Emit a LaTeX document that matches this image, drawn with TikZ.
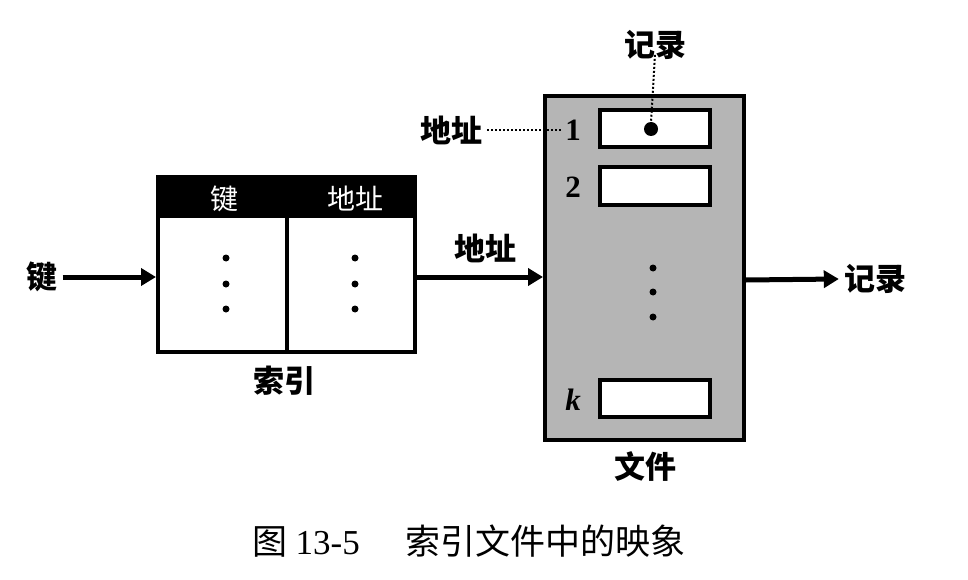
\documentclass[tikz,border=0pt]{standalone}
\usepackage{fontspec}
\setmainfont{Liberation Serif}
\newfontfamily\cjk{Noto Sans CJK SC}
\usetikzlibrary{arrows.meta}
\begin{document}
\begin{tikzpicture}[x=1pt,y=-1pt,
  thickbox/.style={draw=black,line width=4.5pt},
  lbl/.style={font=\cjk\bfseries\fontsize{31}{31}\selectfont,inner sep=0pt},
  hdr/.style={font=\cjk\fontsize{28}{28}\selectfont,text=white,inner sep=0pt},
  num/.style={font=\bfseries\fontsize{31}{31}\selectfont,inner sep=0pt},
  dotmark/.style={circle,fill=black,inner sep=0pt,minimum size=7pt},
  flow/.style={line width=5pt,-{Triangle[length=15pt,width=17pt]}},
  lead/.style={line width=2pt,dash pattern=on 2pt off 2pt}
]
\useasboundingbox (0,0) rectangle (968,580);
\fill[white] (0,0) rectangle (968,580);

% index table
\fill[black] (158,177) rectangle (415,218);
\draw[thickbox] (158,177) rectangle (415,352);
\draw[line width=4pt] (287,218) -- (287,352);
\node[hdr] (hkey) at (224,199) {键};
\node[hdr] (haddr) at (355,199) {地址};
\foreach \y in {258,284,309} {
  \node[dotmark] at (226,\y) {};
  \node[dotmark] at (355,\y) {};
}
\node[lbl] (idxlbl) at (284,381) {索引};
\coordinate (idxin) at (156,277);
\coordinate (idxout) at (417,277);

% file
\fill[gray!58] (545,96) rectangle (744,440);
\draw[thickbox] (545,96) rectangle (744,440);
\node[thickbox,fill=white,minimum width=110pt,minimum height=37pt,line width=4pt] (s1) at (655,129) {};
\node[thickbox,fill=white,minimum width=110pt,minimum height=37pt,line width=4pt] (s2) at (655,186) {};
\node[thickbox,fill=white,minimum width=110pt,minimum height=37pt,line width=4pt] (sk) at (655,398) {};
\node[num] (n1) at (573,130) {1};
\node[num] (n2) at (573,187) {2};
\node[num] (nk) at (573,400) {\itshape k};
\foreach \y in {268,292,317} \node[dotmark] at (653,\y) {};
\node[dotmark,minimum size=14pt] (rec) at (651,129) {};
\node[lbl] (filelbl) at (645,466) {文件};
\coordinate (filein) at (543,277);
\coordinate (fileout) at (746,280);

% labels and connectors
\node[lbl] (keyin) at (42,277) {键};
\node[lbl] (addrmid) at (485,248) {地址};
\node[lbl] (recout) at (875,279) {记录};
\node[lbl] (addrtop) at (451,130) {地址};
\node[lbl] (rectop) at (655,45) {记录};

\draw[flow] ([xshift=5pt]keyin.east) -- (idxin);
\draw[flow] (idxout) -- (filein);
\draw[flow] (fileout) -- ([xshift=-5pt]recout.west);
\draw[lead] ([xshift=5pt]addrtop.east) -- ([xshift=-3pt]n1.west);
\draw[lead] ([yshift=5pt]rectop.south) -- (rec.north);

% caption
\node[font=\cjk\fontsize{35}{35}\selectfont,inner sep=0pt] (cap) at (469,541) {图 {\rmfamily 13-5}\hspace{1.3em}索引文件中的映象};
\end{tikzpicture}
\end{document}
